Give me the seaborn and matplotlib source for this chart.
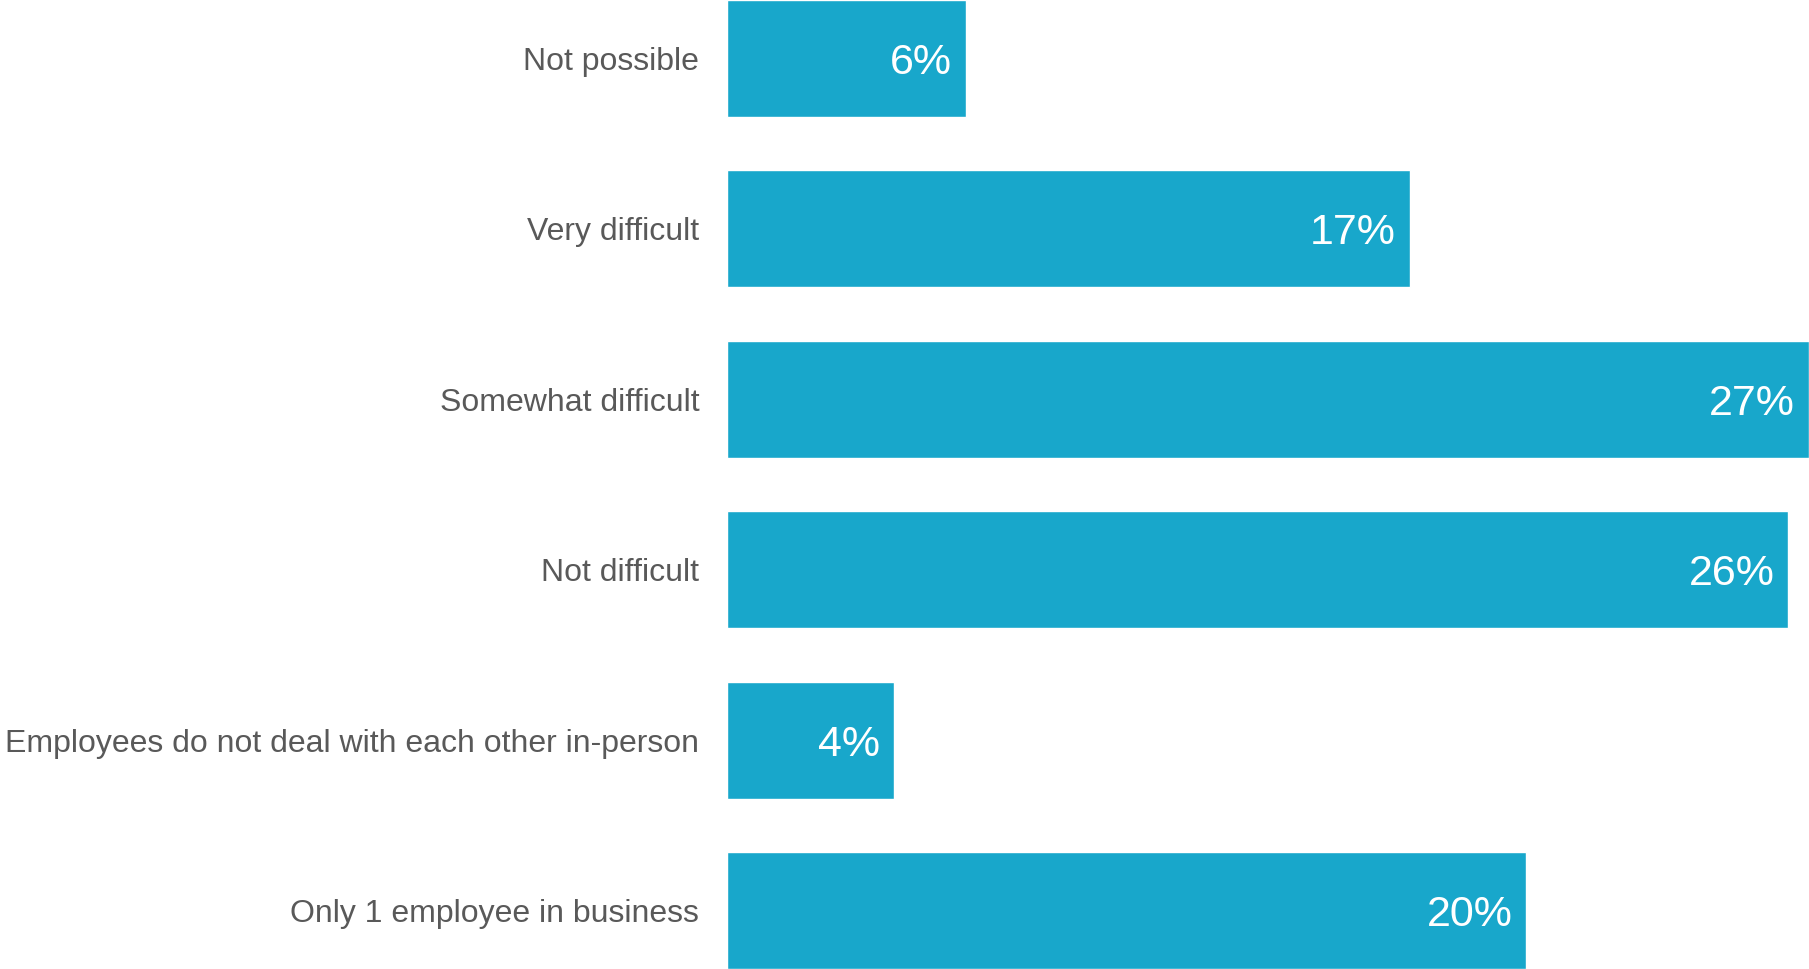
import numpy as np
import pandas as pd
import seaborn as sns
import matplotlib.pyplot as plt

sns.set_style('white')
plt.rcParams['font.family'] = ['Liberation Sans', 'DejaVu Sans']

# 응답 항목과 비율
categories = ['Not possible', 'Very difficult', 'Somewhat difficult', 'Not difficult',
              'Employees do not deal with each other in-person', 'Only 1 employee in business']
values = [5.96, 17.04, 27.0, 26.48, 4.17, 19.95]
value_labels = ['6%', '17%', '27%', '26%', '4%', '20%']

df = pd.DataFrame({'category': categories, 'value': values})

fig = plt.figure(figsize=(18.09, 9.69), dpi=100)
ax = fig.add_axes([727 / 1809, 0, 1 - 727 / 1809, 1])

sns.barplot(data=df, x='value', y='category', orient='h', color='#18A7CB',
            saturation=1, width=0.687, ax=ax)

for i, (v, lab) in enumerate(zip(values, value_labels)):
    ax.annotate(lab, xy=(v, i), xytext=(-10, 0), textcoords='offset points',
                ha='right', va='center_baseline', color='white', fontsize=31)

ax.set_xlim(0, 27.0)
ax.set_ylim(5.3435, -0.3435)
ax.set_xlabel('')
ax.set_ylabel('')
ax.set_xticks([])
ax.tick_params(axis='y', length=0, pad=20, labelsize=23, labelcolor='#595959')
sns.despine(ax=ax, left=True, bottom=True)

fig.savefig('out.png', dpi=100)
